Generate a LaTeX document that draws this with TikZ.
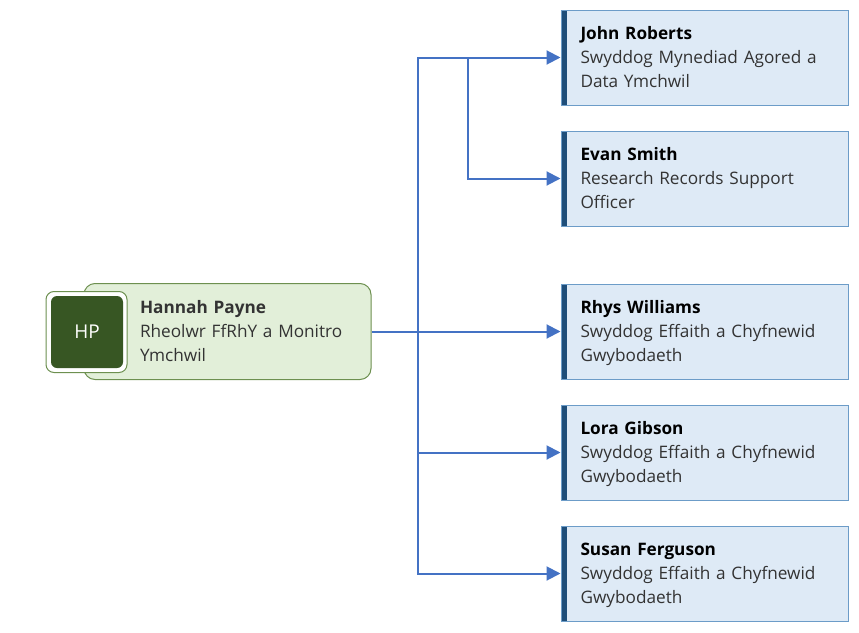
\documentclass[tikz,border=0pt]{standalone}
\usepackage{fontspec}
\setmainfont{Open Sans}
\usetikzlibrary{arrows.meta}
\definecolor{staffblue}{HTML}{DEEAF6}
\definecolor{staffedge}{HTML}{6C9CC8}
\definecolor{staffbar}{HTML}{1F4E79}
\definecolor{leadgreen}{HTML}{E2EFD9}
\definecolor{leadedge}{HTML}{6D9050}
\definecolor{initgreen}{HTML}{375623}
\definecolor{linkblue}{HTML}{4472C4}
\definecolor{bodygrey}{HTML}{333333}
\tikzset{
    staffbox/.style={draw=staffedge, fill=staffblue, line width=1pt, minimum width=287pt, minimum height=95pt, inner sep=0pt,
        path picture={\fill[staffbar] (path picture bounding box.north west) rectangle ([xshift=6pt]path picture bounding box.south west);}},
    persontext/.style={anchor=west, inner sep=0pt, align=left, text=bodygrey, yshift=-1pt, font=\fontsize{17.2}{24}\selectfont,
        execute at begin node=\strut, execute at end node=\strut},
    stafftext/.style={persontext, xshift=19.8pt, text width=262pt},
    link/.style={draw=linkblue, line width=2pt, -{Triangle[length=14pt,width=14pt]}}
}
\begin{document}
\begin{tikzpicture}[x=1pt,y=1pt]
    \useasboundingbox (0,0) rectangle (859,-632);

    % Lead
    \node[draw=leadedge, fill=leadgreen, line width=1pt, rounded corners=11pt, minimum width=287pt, minimum height=96pt, inner sep=0pt] (hannah) at (227.5,-331.5) {};
    \node[draw=leadedge, fill=white, line width=1pt, rounded corners=8pt, minimum size=81pt, inner sep=0pt] (hpframe) at (86.5,-332) {};
    \node[fill=initgreen, text=white, rounded corners=6pt, minimum size=72pt, inner sep=0pt, font=\fontsize{19}{22}\selectfont] (hp) at (87,-332) {HP};
    \node[persontext, text width=225pt] (hannahtext) at (139.8,-331.5) {\textbf{Hannah Payne}\\Rheolwr FfRhY a Monitro\\Ymchwil};

    % Staff
    \node[staffbox] (john) at (704.5,-57.5) {};
    \node[staffbox] (evan) at (704.5,-178.5) {};
    \node[staffbox] (rhys) at (704.5,-331.5) {};
    \node[staffbox] (lora) at (704.5,-452.5) {};
    \node[staffbox] (susan) at (704.5,-573.5) {};

    \node[stafftext] (johntext) at (john.west) {\textcolor{black}{\textbf{John Roberts}}\\Swyddog Mynediad Agored a\\Data Ymchwil};
    \node[stafftext] (evantext) at (evan.west) {\textcolor{black}{\textbf{Evan Smith}}\\Research Records Support\\Officer};
    \node[stafftext] (rhystext) at (rhys.west) {\textcolor{black}{\textbf{Rhys Williams}}\\Swyddog Effaith a Chyfnewid\\Gwybodaeth};
    \node[stafftext] (loratext) at (lora.west) {\textcolor{black}{\textbf{Lora Gibson}}\\Swyddog Effaith a Chyfnewid\\Gwybodaeth};
    \node[stafftext] (susantext) at (susan.west) {\textcolor{black}{\textbf{Susan Ferguson}}\\Swyddog Effaith a Chyfnewid\\Gwybodaeth};

    % Connectors
    \coordinate (junction) at (418,-331.5);
    \coordinate (branch) at (468,-57.5);
    \draw[link] (hannah.east) -- (rhys.west);
    \draw[link] (junction) |- (john.west);
    \draw[link] (branch) |- (evan.west);
    \draw[link] (junction) |- (lora.west);
    \draw[link] (junction) |- (susan.west);

\end{tikzpicture}
\end{document}
